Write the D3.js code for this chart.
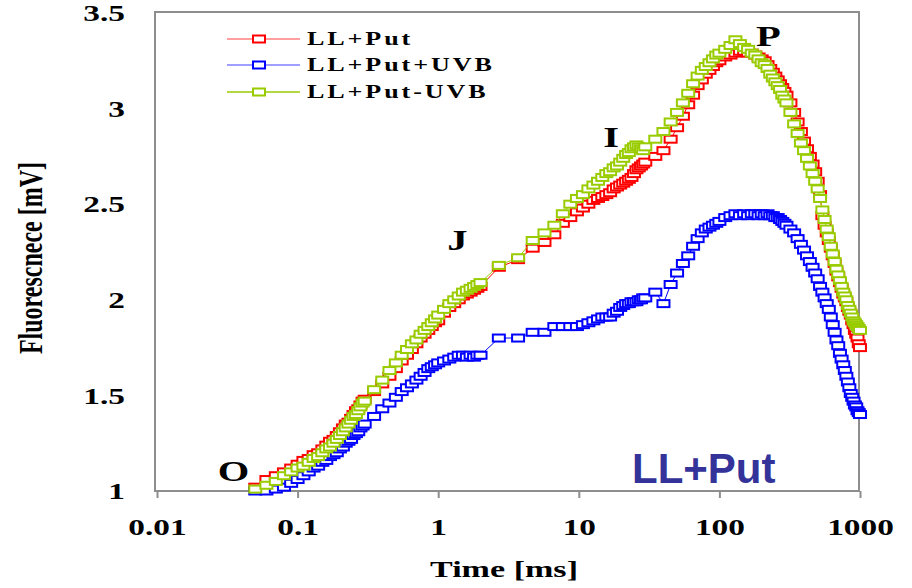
<!DOCTYPE html>
<html>
<head>
<meta charset="utf-8">
<style>
    body { margin: 0; background: #fff; }
    svg { display: block; }
    .serif { font-family: "Liberation Serif", "Times New Roman", serif; font-weight: bold; fill: #000; }
</style>
</head>
<body>
<svg width="912" height="588"></svg>
<script src="https://cdn.jsdelivr.net/npm/d3@7"></script>
<script>
// time axis (ms), shared by the three curves
var times = [0.05, 0.06, 0.07, 0.08, 0.09, 0.1, 0.11, 0.12, 0.13, 0.14, 0.15, 0.16, 0.17, 0.18, 0.19, 0.2,
    0.21, 0.22, 0.23, 0.24, 0.25, 0.26, 0.27, 0.28, 0.29, 0.3,
    0.35, 0.4, 0.45, 0.5, 0.55, 0.6, 0.65, 0.7, 0.75, 0.8, 0.85, 0.9, 0.95, 1,
    1.1, 1.2, 1.3, 1.4, 1.5, 1.6, 1.7, 1.8, 1.9, 2,
    2.7, 3.7, 4.7, 5.7, 6.7, 7.7, 8.7, 9.7, 10.7, 11.7, 12.7, 13.7, 14.7, 15.7, 16.7, 17.7, 18.7, 19.7,
    20.7, 21.7, 22.7, 23.7, 24.7, 25.7, 26.7, 27.7, 28.7, 29.7,
    35, 40, 45, 50, 55, 60, 65, 70, 75, 80, 85, 90, 95, 100,
    110, 120, 130, 140, 150, 160, 170, 180, 190, 200, 210, 220, 230, 240, 250, 260, 270, 280, 290, 300,
    320, 340, 360, 380, 400, 420, 440, 460, 480, 500, 520, 540, 560, 580, 600, 620, 640, 660, 680, 700,
    720, 740, 760, 780, 800, 820, 840, 860, 880, 900, 920, 940, 960, 980, 1000];

// LL+Put (red)
var llPut = [1.02, 1.06, 1.08, 1.10, 1.12, 1.14, 1.16, 1.17, 1.19, 1.20, 1.22, 1.24, 1.26, 1.27, 1.29, 1.31,
    1.33, 1.35, 1.36, 1.38, 1.40, 1.42, 1.43, 1.45, 1.47, 1.48,
    1.52, 1.56, 1.60, 1.64, 1.68, 1.71, 1.74, 1.77, 1.80, 1.82, 1.84, 1.86, 1.88, 1.89,
    1.93, 1.96, 1.98, 2.00, 2.02, 2.03, 2.04, 2.05, 2.06, 2.07,
    2.17, 2.21, 2.27, 2.30, 2.34, 2.40, 2.43, 2.46, 2.48, 2.50, 2.52, 2.53, 2.54, 2.55, 2.56, 2.58, 2.59, 2.60,
    2.61, 2.62, 2.63, 2.64, 2.66, 2.68, 2.69, 2.70, 2.71, 2.72,
    2.75, 2.78, 2.84, 2.90, 2.96, 3.02, 3.07, 3.12, 3.15, 3.18, 3.20, 3.22, 3.24, 3.25,
    3.27, 3.28, 3.29, 3.30, 3.30, 3.29, 3.29, 3.28, 3.27, 3.26, 3.25, 3.23, 3.21, 3.19, 3.17, 3.15, 3.13, 3.11, 3.09, 3.07,
    3.03, 2.98, 2.93, 2.88, 2.83, 2.79, 2.75, 2.71, 2.67, 2.62, 2.55, 2.44, 2.39, 2.35, 2.31, 2.27, 2.23, 2.19, 2.15, 2.12,
    2.09, 2.06, 2.03, 2.01, 1.99, 1.96, 1.94, 1.92, 1.89, 1.87, 1.84, 1.82, 1.80, 1.77, 1.75];

// LL+Put+UVB (blue)
var llPutUvb = [1.00, 1.00, 1.01, 1.02, 1.04, 1.06, 1.08, 1.10, 1.12, 1.13, 1.15, 1.16, 1.18, 1.19, 1.20, 1.22,
    1.23, 1.25, 1.26, 1.27, 1.29, 1.30, 1.31, 1.33, 1.34, 1.35,
    1.39, 1.43, 1.46, 1.49, 1.52, 1.54, 1.56, 1.58, 1.60, 1.62, 1.64, 1.65, 1.66, 1.67,
    1.68, 1.69, 1.70, 1.71, 1.71, 1.70, 1.71, 1.70, 1.71, 1.71,
    1.80, 1.80, 1.83, 1.83, 1.86, 1.86, 1.86, 1.86, 1.87, 1.88, 1.89, 1.90, 1.91, 1.91, 1.91, 1.93, 1.94, 1.96,
    1.97, 1.98, 1.98, 1.99, 1.99, 1.99, 2.00, 2.00, 2.01, 2.01,
    2.04, 1.98, 2.08, 2.14, 2.19, 2.23, 2.28, 2.32, 2.35, 2.37, 2.38, 2.39, 2.40, 2.41,
    2.43, 2.44, 2.45, 2.44, 2.45, 2.44, 2.45, 2.45, 2.44, 2.45, 2.44, 2.45, 2.44, 2.44, 2.43, 2.43, 2.42, 2.41, 2.40, 2.39,
    2.37, 2.35, 2.32, 2.29, 2.26, 2.23, 2.20, 2.17, 2.14, 2.11, 2.07, 2.04, 2.01, 1.98, 1.95, 1.91, 1.87, 1.83, 1.79, 1.76,
    1.72, 1.69, 1.66, 1.63, 1.60, 1.57, 1.54, 1.51, 1.49, 1.47, 1.45, 1.44, 1.42, 1.41, 1.40];

// LL+Put-UVB (green)
var llPutNoUvb = [1.01, 1.03, 1.05, 1.08, 1.10, 1.12, 1.13, 1.15, 1.17, 1.18, 1.20, 1.22, 1.23, 1.25, 1.27, 1.29,
    1.31, 1.33, 1.35, 1.37, 1.39, 1.40, 1.42, 1.44, 1.46, 1.47,
    1.53, 1.58, 1.63, 1.67, 1.71, 1.74, 1.77, 1.79, 1.82, 1.84, 1.86, 1.88, 1.90, 1.92,
    1.95, 1.98, 2.00, 2.02, 2.04, 2.05, 2.06, 2.07, 2.08, 2.09,
    2.18, 2.22, 2.31, 2.35, 2.39, 2.45, 2.50, 2.53, 2.55, 2.58, 2.60, 2.62, 2.64, 2.66, 2.67, 2.69, 2.70, 2.72,
    2.74, 2.76, 2.77, 2.79, 2.80, 2.81, 2.80, 2.79, 2.78, 2.80,
    2.84, 2.88, 2.93, 2.98, 3.03, 3.08, 3.13, 3.17, 3.20, 3.22, 3.24, 3.26, 3.28, 3.29,
    3.31, 3.33, 3.36, 3.34, 3.32, 3.31, 3.29, 3.28, 3.26, 3.24, 3.23, 3.21, 3.18, 3.16, 3.14, 3.12, 3.10, 3.07, 3.05, 3.03,
    2.98, 2.92, 2.87, 2.82, 2.78, 2.74, 2.70, 2.66, 2.62, 2.58, 2.53, 2.47, 2.42, 2.37, 2.33, 2.28, 2.24, 2.20, 2.16, 2.13,
    2.10, 2.07, 2.04, 2.02, 2.00, 1.97, 1.95, 1.93, 1.91, 1.89, 1.88, 1.87, 1.86, 1.85, 1.84];

var seriesNames = ["LL+Put", "LL+Put+UVB", "LL+Put-UVB"];
var seriesColors = ["#ff0000", "#0000ff", "#99cc00"];

var xTicks = [0.01, 0.1, 1, 10, 100, 1000];
var xTickLabels = ["0.01", "0.1", "1", "10", "100", "1000"];
var yTicks = [1, 1.5, 2, 2.5, 3, 3.5];
var yTickLabels = ["1", "1.5", "2", "2.5", "3", "3.5"];

// O J I P letters, placed in data units (time, fluorescence at baseline)
var phaseLabels = ["O", "J", "I", "P"];
var phaseTimes = [0.035, 1.37, 17, 223];
var phaseValues = [1.05, 2.26, 2.80, 3.33];

var svg = d3.select("svg"),
    plot = { left: 155, top: 12, right: 859, bottom: 491 };

// the picture was stretched sideways, so the serif text is too
var stretch = 1.45;

var x = d3.scaleLog().domain([0.01, 1000]).range([157, 860]),
    y = d3.scaleLinear().domain([1, 3.5]).range([491, 13]);

// x axis with ticks pointing down
var gx = svg.append("g")
    .attr("transform", "translate(0," + plot.bottom + ")")
    .call(d3.axisBottom(x)
        .tickValues(xTicks)
        .tickFormat(function (d, i) { return xTickLabels[i]; })
        .tickSizeInner(7)
        .tickSizeOuter(0));
gx.select(".domain").remove();
gx.selectAll("line").attr("stroke", "#8e8e8e").attr("stroke-width", 2);
gx.selectAll("text")
    .attr("class", "serif")
    .attr("y", 0).attr("dy", 0)
    .attr("transform", "translate(0,44) scale(" + stretch + ",1)")
    .style("font-size", "23px")
    .attr("fill", "#000");

// y axis, labels only
var gy = svg.append("g")
    .attr("transform", "translate(" + plot.left + ",0)")
    .call(d3.axisLeft(y)
        .tickValues(yTicks)
        .tickFormat(function (d, i) { return yTickLabels[i]; })
        .tickSize(0));
gy.select(".domain").remove();
gy.selectAll("text")
    .attr("class", "serif")
    .attr("x", -30 / stretch)
    .attr("dy", "0.33em")
    .attr("transform", "scale(" + stretch + ",1)")
    .style("font-size", "23px")
    .attr("fill", "#000");

// frame round the plot area
svg.append("rect")
    .attr("x", plot.left)
    .attr("y", plot.top)
    .attr("width", plot.right - plot.left)
    .attr("height", plot.bottom - plot.top)
    .attr("fill", "none")
    .attr("stroke", "#8e8e8e")
    .attr("stroke-width", 2);

var line = d3.line()
    .x(function (d) { return x(d.t); })
    .y(function (d) { return y(d.v); });

var allValues = [llPut, llPutUvb, llPutNoUvb];

allValues.forEach(function (vals, k) {
    var pts = times.map(function (t, i) { return { t: t, v: vals[i] }; });
    var g = svg.append("g");

    g.append("path")
        .datum(pts)
        .attr("d", line)
        .attr("fill", "none")
        .attr("stroke", seriesColors[k])
        .attr("stroke-width", 1);

    g.selectAll("rect")
        .data(pts)
        .enter().append("rect")
        .attr("x", function (d) { return x(d.t) - 6; })
        .attr("y", function (d) { return y(d.v) - 3.5; })
        .attr("width", 12)
        .attr("height", 7)
        .attr("fill", "#fff")
        .attr("stroke", seriesColors[k])
        .attr("stroke-width", 2);
});

// legend
var legend = svg.append("g");
var legendY = [39, 65, 92];
seriesNames.forEach(function (name, i) {
    legend.append("line")
        .attr("x1", 227).attr("x2", 300)
        .attr("y1", legendY[i]).attr("y2", legendY[i])
        .attr("stroke", seriesColors[i])
        .attr("stroke-opacity", i == 2 ? 1 : 0.5)
        .attr("stroke-width", 1.5);
    legend.append("rect")
        .attr("x", 253).attr("y", legendY[i] - 3.5)
        .attr("width", 12).attr("height", 7)
        .attr("fill", "#fff")
        .attr("stroke", seriesColors[i])
        .attr("stroke-width", 2);
    legend.append("text")
        .attr("class", "serif")
        .attr("transform", "translate(307," + (legendY[i] + 6) + ") scale(" + stretch + ",1)")
        .style("font-size", "18px")
        .style("letter-spacing", "2px")
        .text(name);
});

// phase letters
phaseLabels.forEach(function (p, i) {
    svg.append("text")
        .attr("class", "serif")
        .attr("text-anchor", "middle")
        .attr("transform", "translate(" + x(phaseTimes[i]) + "," + y(phaseValues[i]) + ") scale(1.35,1)")
        .style("font-size", "30px")
        .text(p);
});

// axis titles
svg.append("text")
    .attr("class", "serif")
    .attr("text-anchor", "middle")
    .attr("transform", "translate(504,577) scale(1.42,1)")
    .style("font-size", "24px")
    .text("Time [ms]");

svg.append("text")
    .attr("class", "serif")
    .attr("text-anchor", "middle")
    .attr("transform", "translate(42,258) scale(1.42,1) rotate(-90)")
    .style("font-size", "24px")
    .text("Fluorescnece [mV]");

// treatment name in the corner
svg.append("text")
    .attr("x", 632)
    .attr("y", 483)
    .style("font-family", "'Liberation Sans', Arial, sans-serif")
    .style("font-weight", "bold")
    .style("font-size", "42px")
    .attr("fill", "#333399")
    .text("LL+Put");
</script>
</body>
</html>
